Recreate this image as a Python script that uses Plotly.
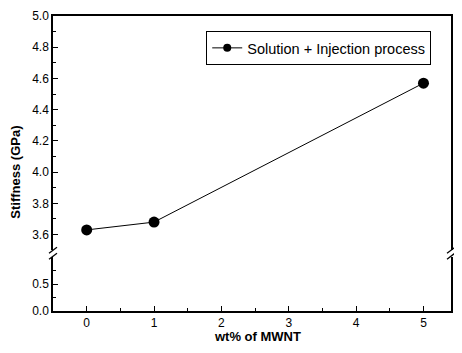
import plotly.graph_objects as go

wt_mwnt = [0, 1, 5]
stiffness = [3.63, 3.68, 4.57]
series_name = "Solution + Injection process"
x_ticks = [0, 1, 2, 3, 4, 5]
upper_ticks = [3.6, 3.8, 4.0, 4.2, 4.4, 4.6, 4.8, 5.0]
lower_ticks = [0.0, 0.5]

# page has an 8px body margin; keep the figure inside the viewport (no scrollbars)
OFF = 8
W, H = 462 - 2 * OFF, 353 - 2 * OFF
PL, PR, PT, PB = 53, 453, 15, 311  # plot area in page pixels
L, T = PL - OFF, PT - OFF
R = W - (PR - OFF)
B = H - (PB - OFF)
pw, ph = PR - PL, PB - PT
unit = 67.7  # px per x unit in the reference
x_range = [-0.5, -0.5 + pw / unit]

def px_(x):
    return (x - PL) / pw

def py(y):
    return (PB - y) / ph

upper_dom = [py(250), 1.0]
lower_dom = [0.0, py(257)]

fig = go.Figure()
fig.add_trace(go.Scatter(
    x=wt_mwnt, y=stiffness, mode="lines+markers", name=series_name,
    line=dict(color="black", width=1),
    marker=dict(color="black", size=11),
    xaxis="x2", yaxis="y2", showlegend=False,
))
# legend entry (smaller marker as in the reference legend)
fig.add_trace(go.Scatter(
    x=[None], y=[None], mode="lines+markers", name=series_name,
    line=dict(color="black", width=1),
    marker=dict(color="black", size=8),
    xaxis="x2", yaxis="y2", showlegend=True,
))
fig.add_trace(go.Scatter(x=[None], y=[None], xaxis="x", yaxis="y", showlegend=False))

font = dict(family="Liberation Sans, Arial", size=12, color="black")
axcommon = dict(showgrid=False, zeroline=False, linecolor="black", linewidth=1.5,
                ticks="inside", tickcolor="black", tickfont=font)

fig.update_layout(
    width=W, height=H,
    margin=dict(l=L, r=R, t=T, b=B),
    paper_bgcolor="white", plot_bgcolor="white",
    font=font,
    showlegend=True,
    legend=dict(x=px_(207), y=py(30), xanchor="left", yanchor="top",
                bordercolor="black", borderwidth=1, bgcolor="white",
                font=dict(family="Liberation Sans, Arial", size=14.5, color="black"),
                itemwidth=30, tracegroupgap=0),
    xaxis=dict(domain=[0, 1], anchor="y", range=x_range, tickvals=x_ticks,
               showline=True, ticklen=5,
               minor=dict(dtick=0.5, tick0=0, ticks="inside", ticklen=3, tickcolor="black"),
               **axcommon),
    xaxis2=dict(domain=[0, 1], anchor="y2", range=x_range, matches="x",
                side="top", showline=True, showticklabels=False, ticks="",
                showgrid=False, zeroline=False, linecolor="black", linewidth=1.5),
    yaxis=dict(domain=lower_dom, anchor="x", range=[0, 1.0], tickvals=lower_ticks,
               ticktext=["0.0", "0.5"], showline=True, mirror=True, ticklen=5,
               minor=dict(dtick=0.25, tick0=0, ticks="inside", ticklen=3, tickcolor="black"),
               **axcommon),
    yaxis2=dict(domain=upper_dom, anchor="x2", range=[3.5, 5.0], tickvals=upper_ticks,
                ticktext=[f"{v:.1f}" for v in upper_ticks], showline=True, mirror=True,
                ticklen=5,
                minor=dict(dtick=0.1, tick0=3.5, ticks="inside", ticklen=3, tickcolor="black"),
                **axcommon),
)

bold = dict(family="Liberation Sans, Arial", size=13, color="black")
fig.add_annotation(text="<b>Stiffness (GPa)</b>", textangle=-90, xref="paper", yref="paper",
                   x=px_(15), y=py(172), showarrow=False, font=bold,
                   xanchor="center", yanchor="middle")
fig.add_annotation(text="<b>wt% of MWNT</b>", xref="paper", yref="paper",
                   x=px_(259), y=py(337), showarrow=False, font=bold,
                   xanchor="center", yanchor="middle")

# axis break marks
dx = 4 / pw
dy = 3 / ph
for xb in (0, 1):
    for yc in (py(250), py(256)):
        fig.add_shape(type="line", xref="paper", yref="paper",
                      x0=xb - dx, y0=yc - dy, x1=xb + dx, y1=yc + dy,
                      line=dict(color="black", width=1.3))

fig.write_html("out.html")
